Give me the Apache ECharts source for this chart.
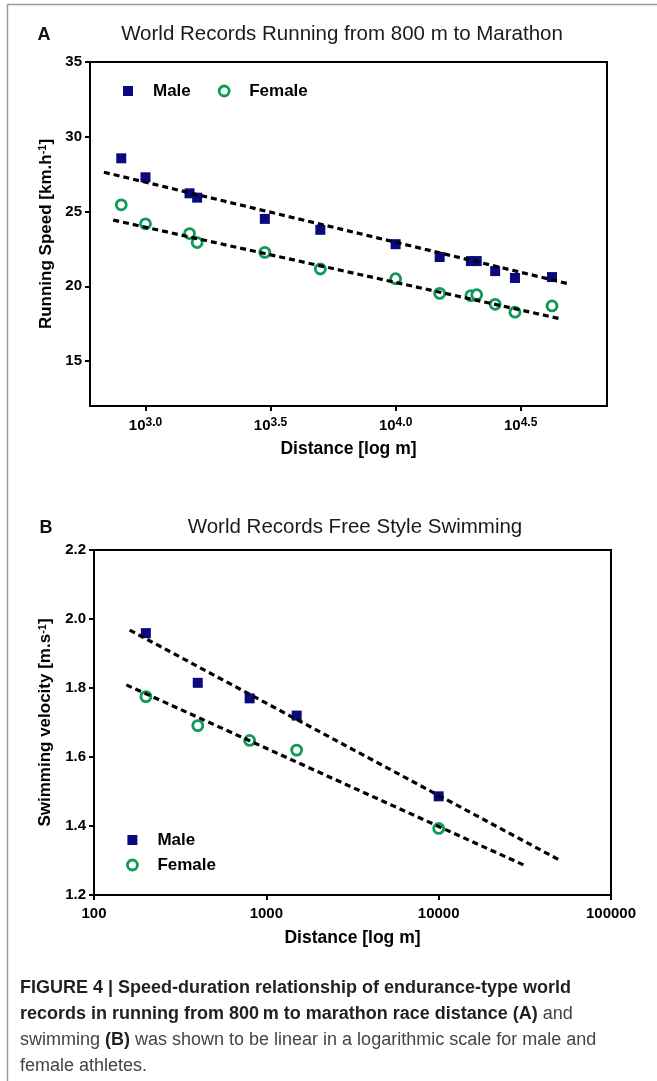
<!DOCTYPE html>
<html>
<head>
<meta charset="utf-8">
<script src="https://cdn.jsdelivr.net/npm/echarts@6/dist/echarts.min.js"></script>
<style>
html,body{margin:0;padding:0;background:#fff;}
#chart{width:657px;height:1081px;}
</style>
</head>
<body>
<div id="chart"></div>
<script>
// ---- Panel A: running world records ----
const runDist = [800, 1000, 1500, 1609, 3000, 5000, 10000, 15000, 20000, 21097, 25000, 30000, 42195];
const runMale = [28.56, 27.29, 26.22, 25.93, 24.51, 23.78, 22.82, 21.96, 21.69, 21.69, 21.02, 20.56, 20.62];
const runFemale = [25.45, 24.18, 23.53, 22.93, 22.27, 21.16, 20.51, 19.53, 19.38, 19.44, 18.80, 18.27, 18.69];
const runMaleFitX = [682, 49500];
const runMaleFitY = [27.63, 20.16];
const runFemaleFitX = [743, 45600];
const runFemaleFitY = [24.43, 17.83];
const runXTickExp = [3.0, 3.5, 4.0, 4.5];
const runYTicks = [15, 20, 25, 30, 35];

// ---- Panel B: swimming world records ----
const swimDist = [200, 400, 800, 1500, 10000];
const swimMale = [1.959, 1.815, 1.770, 1.720, 1.486];
const swimFemale = [1.775, 1.691, 1.648, 1.620, 1.393];
const swimMaleFitX = [161, 49500];
const swimMaleFitY = [1.968, 1.303];
const swimFemaleFitX = [154, 31800];
const swimFemaleFitY = [1.809, 1.285];
const swimXTicks = [100, 1000, 10000, 100000];
const swimYTicks = [1.2, 1.4, 1.6, 1.8, 2.0, 2.2];

const NAVY = '#0a0a80';
const GREEN = '#0f9a58';
const FONT = '"Liberation Sans", Arial, sans-serif';

const pairs = (xs, ys) => xs.map((x, i) => [x, ys[i]]);

const chart = echarts.init(document.getElementById('chart'), null, {renderer: 'canvas'});

const axisLine = {show: true, lineStyle: {color: '#000', width: 2}};
const axisTick = {show: true, inside: false, length: 5, lineStyle: {color: '#000', width: 2}};
const tickFont = {color: '#000', fontFamily: FONT, fontWeight: 'bold', fontSize: 15};
const nameFont = {color: '#000', fontFamily: FONT, fontWeight: 'bold', fontSize: 17};
const xNameFont = {color: '#000', fontFamily: FONT, fontWeight: 'bold', fontSize: 17.5};

const maleSym = {type: 'scatter', symbol: 'rect', symbolSize: 10, itemStyle: {color: NAVY, opacity: 1}};
const femaleSym = {type: 'scatter', symbol: 'circle', symbolSize: 10,
  itemStyle: {color: '#fff', borderColor: GREEN, borderWidth: 2.8, opacity: 1}};
const fitLine = {type: 'line', symbol: 'none', silent: true,
  lineStyle: {color: '#000', width: 3.2, type: [6, 4], cap: 'butt'}, z: 5};

const legendText = {color: '#000', fontFamily: FONT, fontWeight: 'bold', fontSize: 17, lineHeight: 18};
const legendData = [
  {name: 'Male', icon: 'path://M0 0H10V10H0Z', itemStyle: {color: NAVY, borderWidth: 0, opacity: 1}},
  {name: 'Female', icon: 'circle', itemStyle: {color: '#fff', borderColor: GREEN, borderWidth: 2.8, opacity: 1}}
];

const capBold = {fontFamily: FONT, fontWeight: 'bold', fontSize: 18, fill: '#231f20'};
const capReg = {fontFamily: FONT, fontSize: 18, fill: '#444'};

const option = {
  animation: false,
  backgroundColor: '#fff',
  grid: [
    {left: 90, top: 62, right: 50, bottom: 675, show: true, borderColor: '#000', borderWidth: 2, containLabel: false},
    {left: 94, top: 550, right: 46, bottom: 186, show: true, borderColor: '#000', borderWidth: 2, containLabel: false}
  ],
  legend: [
    {orient: 'horizontal', left: 118, top: 77, itemWidth: 40, itemHeight: 10, itemGap: 27,
      textStyle: legendText, data: legendData, selectedMode: false},
    {orient: 'vertical', left: 121, top: 826, itemWidth: 40, itemHeight: 10, itemGap: 7,
      textStyle: legendText, data: legendData, selectedMode: false}
  ],
  xAxis: [
    {gridIndex: 0, type: 'log', logBase: 10, min: 600, max: 70000,
      name: 'Distance [log m]', nameLocation: 'middle', nameGap: 34, nameTextStyle: xNameFont,
      axisLine: axisLine, splitLine: {show: false}, minorTick: {show: false},
      axisTick: Object.assign({}, axisTick, {customValues: runXTickExp.map(e => Math.pow(10, e))}),
      axisLabel: {margin: 11, customValues: runXTickExp.map(e => Math.pow(10, e)),
        formatter: v => '{b|10}{s|' + Math.log10(v).toFixed(1) + '}',
        rich: {b: Object.assign({}, tickFont, {lineHeight: 18}),
               s: Object.assign({}, tickFont, {fontSize: 12, verticalAlign: 'top', lineHeight: 12})}}},
    {gridIndex: 1, type: 'log', logBase: 10, min: 100, max: 100000,
      name: 'Distance [log m]', nameLocation: 'middle', nameGap: 34, nameTextStyle: xNameFont,
      axisLine: axisLine, splitLine: {show: false}, minorTick: {show: false},
      axisTick: Object.assign({}, axisTick, {customValues: swimXTicks}),
      axisLabel: Object.assign({margin: 11, customValues: swimXTicks, formatter: v => String(Math.round(v))}, tickFont)}
  ],
  yAxis: [
    {gridIndex: 0, type: 'value', min: 12, max: 35,
      name: '{n|Running Speed [km.h}{s|-1}{n|]}', nameLocation: 'middle', nameRotate: 90, nameGap: 35,
      nameTextStyle: {rich: {n: nameFont, s: Object.assign({}, nameFont, {fontSize: 11, verticalAlign: 'top', lineHeight: 11})}},
      axisLine: axisLine, splitLine: {show: false},
      axisTick: Object.assign({}, axisTick, {customValues: runYTicks}),
      axisLabel: Object.assign({margin: 8, customValues: runYTicks}, tickFont)},
    {gridIndex: 1, type: 'value', min: 1.2, max: 2.2, interval: 0.2,
      name: '{n|Swimming velocity [m.s}{s|-1}{n|]}', nameLocation: 'middle', nameRotate: 90, nameGap: 39,
      nameTextStyle: {rich: {n: nameFont, s: Object.assign({}, nameFont, {fontSize: 11, verticalAlign: 'top', lineHeight: 11})}},
      axisLine: axisLine, splitLine: {show: false},
      axisTick: Object.assign({}, axisTick, {customValues: swimYTicks}),
      axisLabel: Object.assign({margin: 8, customValues: swimYTicks, formatter: v => v.toFixed(1)}, tickFont)}
  ],
  series: [
    Object.assign({}, maleSym, {name: 'Male', xAxisIndex: 0, yAxisIndex: 0, data: pairs(runDist, runMale)}),
    Object.assign({}, femaleSym, {name: 'Female', xAxisIndex: 0, yAxisIndex: 0, data: pairs(runDist, runFemale)}),
    Object.assign({}, fitLine, {name: 'Male fit A', xAxisIndex: 0, yAxisIndex: 0, data: pairs(runMaleFitX, runMaleFitY)}),
    Object.assign({}, fitLine, {name: 'Female fit A', xAxisIndex: 0, yAxisIndex: 0, data: pairs(runFemaleFitX, runFemaleFitY)}),
    Object.assign({}, maleSym, {name: 'Male', xAxisIndex: 1, yAxisIndex: 1, data: pairs(swimDist, swimMale)}),
    Object.assign({}, femaleSym, {name: 'Female', xAxisIndex: 1, yAxisIndex: 1, data: pairs(swimDist, swimFemale)}),
    Object.assign({}, fitLine, {name: 'Male fit B', xAxisIndex: 1, yAxisIndex: 1, data: pairs(swimMaleFitX, swimMaleFitY)}),
    Object.assign({}, fitLine, {name: 'Female fit B', xAxisIndex: 1, yAxisIndex: 1, data: pairs(swimFemaleFitX, swimFemaleFitY)})
  ],
  graphic: [
    {type: 'line', shape: {x1: 7, y1: 4.5, x2: 657, y2: 4.5}, style: {stroke: '#9a9a9a', lineWidth: 1.5}},
    {type: 'line', shape: {x1: 7.5, y1: 4, x2: 7.5, y2: 1081}, style: {stroke: '#9a9a9a', lineWidth: 1.5}},
    {type: 'text', x: 44, y: 35, style: {text: 'A', fontFamily: FONT, fontWeight: 'bold', fontSize: 18, fill: '#111', align: 'center', verticalAlign: 'middle'}},
    {type: 'text', x: 342, y: 34, style: {text: 'World Records Running from 800 m to Marathon', fontFamily: FONT, fontSize: 20.5, fill: '#1a1a1a', align: 'center', verticalAlign: 'middle'}},
    {type: 'text', x: 46, y: 528, style: {text: 'B', fontFamily: FONT, fontWeight: 'bold', fontSize: 18, fill: '#111', align: 'center', verticalAlign: 'middle'}},
    {type: 'text', x: 355, y: 527, style: {text: 'World Records Free Style Swimming', fontFamily: FONT, fontSize: 20.5, fill: '#1a1a1a', align: 'center', verticalAlign: 'middle'}},
    {type: 'text', x: 20, y: 988, style: {
      text: '{b|FIGURE 4 | Speed-duration relationship of endurance-type world}',
      rich: {b: capBold}, verticalAlign: 'middle'}},
    {type: 'text', x: 20, y: 1014, style: {
      text: '{b|records in running from 800\u2009m to marathon race distance (A)}{r| and}',
      rich: {b: capBold, r: capReg}, verticalAlign: 'middle'}},
    {type: 'text', x: 20, y: 1040, style: {
      text: '{r|swimming }{b|(B)}{r| was shown to be linear in a logarithmic scale for male and}',
      rich: {b: capBold, r: capReg}, verticalAlign: 'middle'}},
    {type: 'text', x: 20, y: 1066, style: {
      text: '{r|female athletes.}',
      rich: {r: capReg}, verticalAlign: 'middle'}}
  ]
};
chart.setOption(option);
</script>
</body>
</html>
